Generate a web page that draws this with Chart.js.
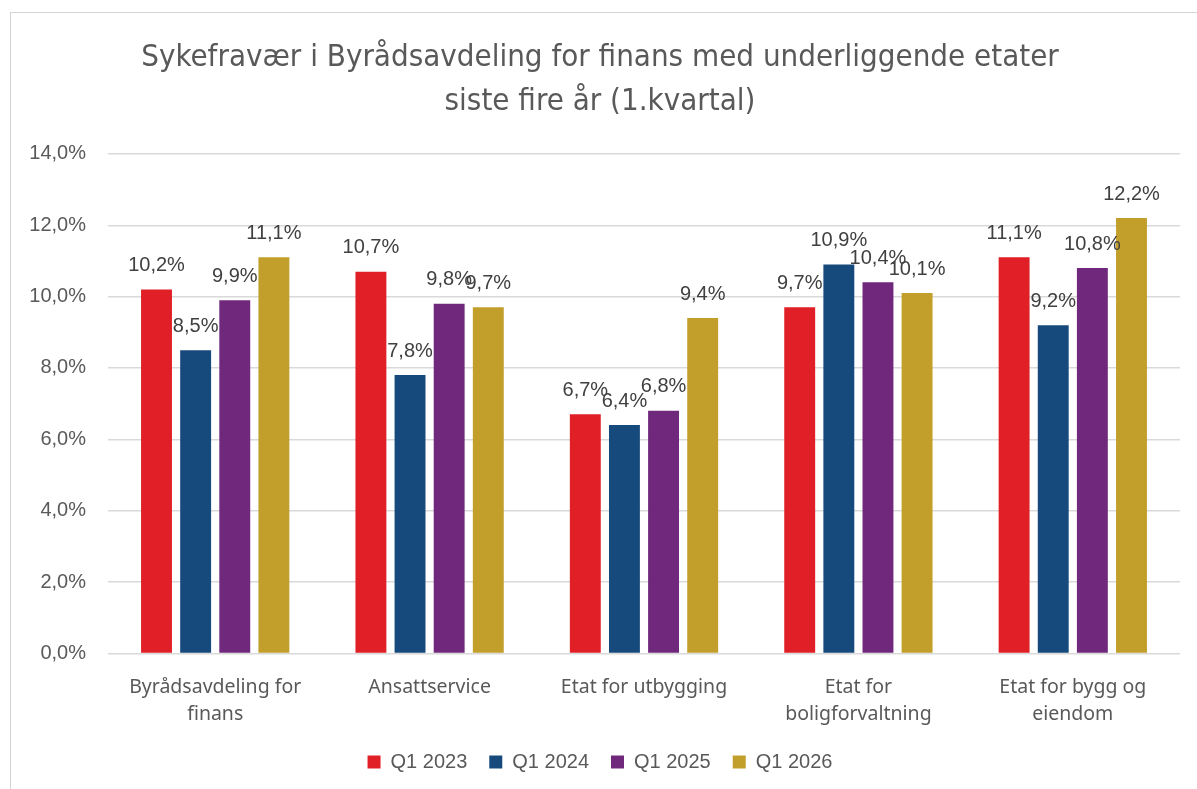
<!DOCTYPE html>
<html>
<head>
<meta charset="utf-8">
<script src="https://cdn.jsdelivr.net/npm/chart.js@4"></script>
<style>
  html, body { margin: 0; padding: 0; background: #fff; }
  #wrap { position: relative; width: 1197px; height: 789px; }
  #frame { position: absolute; left: 10px; top: 12px; width: 1300px; height: 900px;
           border-top: 1px solid #d4d4d4; border-left: 1px solid #d4d4d4; }
  canvas { position: absolute; left: 0; top: 0; }
</style>
</head>
<body>
<div id="wrap">
  <div id="frame"></div>
  <canvas id="myChart" width="1197" height="789"></canvas>
</div>
<script>
const categories = [
  ["Byrådsavdeling for", "finans"],
  "Ansattservice",
  "Etat for utbygging",
  ["Etat for", "boligforvaltning"],
  ["Etat for bygg og", "eiendom"]
];
const seriesNames = ["Q1 2023", "Q1 2024", "Q1 2025", "Q1 2026"];
const q1_2023 = [10.2, 10.7, 6.7, 9.7, 11.1];
const q1_2024 = [8.5, 7.8, 6.4, 10.9, 9.2];
const q1_2025 = [9.9, 9.8, 6.8, 10.4, 10.8];
const q1_2026 = [11.1, 9.7, 9.4, 10.1, 12.2];
const colors = ["#e11f26", "#174a7c", "#70287d", "#c29e2a"];
const yTicks = [0, 2, 4, 6, 8, 10, 12, 14];

function pct(v) {
  return v.toFixed(1).replace(".", ",") + "%";
}

// draws the value above each bar
const valueLabels = {
  id: "valueLabels",
  afterDatasetsDraw(chart) {
    let ctx = chart.ctx;
    ctx.save();
    ctx.font = "20px 'Liberation Sans', Arial, sans-serif";
    ctx.fillStyle = "#404040";
    ctx.textAlign = "center";
    ctx.textBaseline = "bottom";
    chart.data.datasets.forEach(function (ds, i) {
      chart.getDatasetMeta(i).data.forEach(function (bar, j) {
        ctx.fillText(pct(ds.data[j]), bar.x, bar.y - 14);
      });
    });
    ctx.restore();
  }
};

let ctx = document.getElementById("myChart").getContext("2d");
let allSeries = [q1_2023, q1_2024, q1_2025, q1_2026];
new Chart(ctx, {
  type: "bar",
  data: {
    labels: categories,
    datasets: allSeries.map(function (s, i) {
      return {
        label: seriesNames[i],
        data: s,
        backgroundColor: colors[i],
        categoryPercentage: 0.73,
        barPercentage: 0.79
      };
    })
  },
  options: {
    responsive: false,
    animation: false,
    layout: { padding: { left: 20, right: 17, top: 10, bottom: 7 } },
    plugins: {
      title: {
        display: true,
        text: ["Sykefravær i Byrådsavdeling for finans med underliggende etater", "siste fire år (1.kvartal)"],
        color: "#595959",
        font: { family: "'Liberation Sans Narrow', 'DejaVu Sans Condensed', sans-serif", size: 31, weight: "normal", lineHeight: 1.45 },
        padding: { top: 25, bottom: 29 }
      },
      legend: {
        position: "bottom",
        labels: {
          boxWidth: 13,
          boxHeight: 13,
          padding: 22,
          color: "#595959",
          font: { family: "'Liberation Sans', Arial, sans-serif", size: 20 }
        }
      },
      tooltip: { enabled: false }
    },
    scales: {
      x: {
        grid: { display: false },
        border: { display: false },
        afterFit: function (axis) { axis.height -= 10; },
        ticks: {
          color: "#595959",
          padding: 12,
          maxRotation: 0,
          font: { family: "'Noto Sans', sans-serif", size: 19.5, lineHeight: 1.4 }
        }
      },
      y: {
        min: 0,
        max: 14,
        border: { display: false },
        grid: { color: "#d9d9d9", lineWidth: 1.5, drawTicks: false },
        afterBuildTicks: function (axis) {
          axis.ticks = yTicks.map(function (v) { return { value: v }; });
        },
        afterFit: function (axis) { axis.width = 88; },
        ticks: {
          color: "#595959",
          padding: 22,
          font: { family: "'Liberation Sans', Arial, sans-serif", size: 20 },
          callback: function (v) { return pct(v); }
        }
      }
    }
  },
  plugins: [valueLabels]
});
</script>
</body>
</html>
